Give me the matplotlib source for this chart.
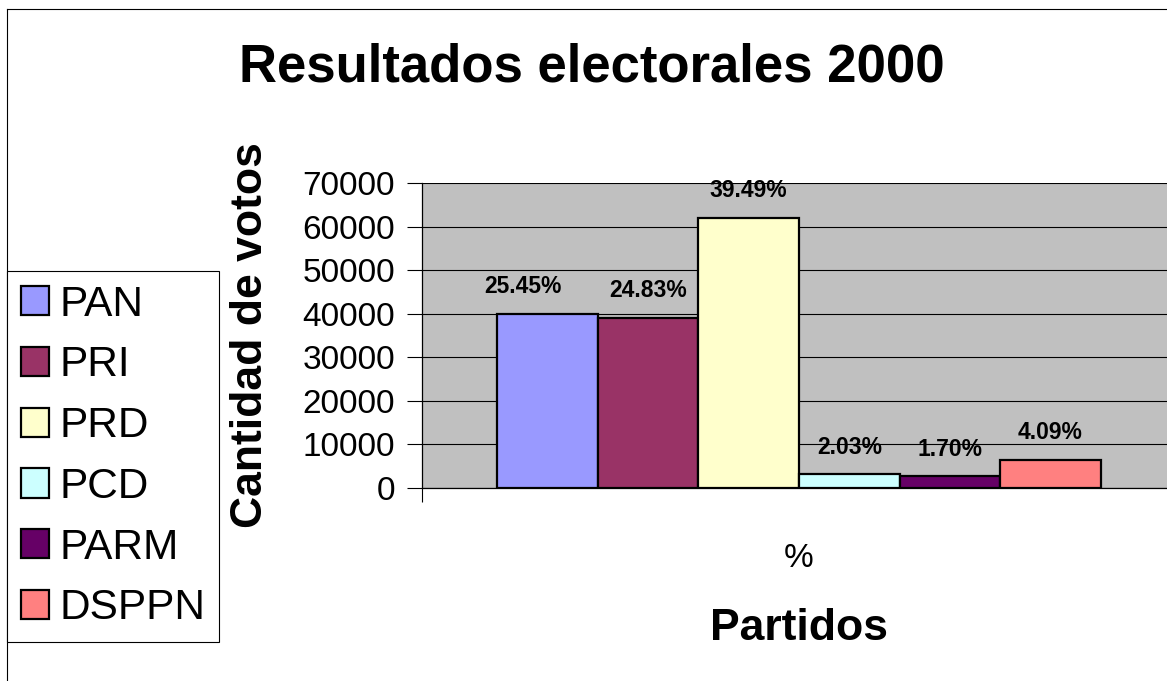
import matplotlib.pyplot as plt
from matplotlib.patches import Patch
from matplotlib.lines import Line2D
import numpy as np

plt.rcParams['font.family'] = ['Liberation Sans', 'DejaVu Sans']

partidos = ['PAN', 'PRI', 'PRD', 'PCD', 'PARM', 'DSPPN']
votos = [40000, 39030, 62070, 3190, 2670, 6430]
porcentajes = ['25.45%', '24.83%', '39.49%', '2.03%', '1.70%', '4.09%']
colores = ['#9999FF', '#993366', '#FFFFCC', '#CCFFFF', '#660066', '#FF8080']
categoria = '%'

W, H = 1167, 681
fig = plt.figure(figsize=(W / 100, H / 100), dpi=100)

# plot area (right edge runs past the picture, as in the reference)
ax = fig.add_axes([422 / W, 1 - 488 / H, 754 / W, 305 / H])
ax.set_facecolor('#C0C0C0')

n = len(partidos)
bw = 1.0 / (n + 1.5)
xs = (np.arange(n) - (n - 1) / 2) * bw
ax.bar(xs, votos, width=bw, color=colores, edgecolor='black', linewidth=1.6, zorder=3)

# data labels (first one sits a little to the left in the original)
label_dx = [-18, 0, 0, 0, 0, 0]
for x, v, txt, dx in zip(xs, votos, porcentajes, label_dx):
    ax.annotate(txt, (x, v), xytext=(dx, 19.5), textcoords='offset points',
                ha='center', va='center', fontsize=16.5, fontweight='bold', zorder=4)

ax.set_xlim(-0.5, 0.5)
ax.set_ylim(0, 70000)
ax.set_yticks(np.arange(0, 70001, 10000))
ax.yaxis.grid(True, color='black', linewidth=0.8, zorder=1)
ax.set_axisbelow(True)
ax.tick_params(axis='y', direction='out', length=11, width=0.8, pad=8.5, labelsize=24)

ax.set_xticks([0])
ax.set_xticklabels([categoria], fontsize=24)
ax.tick_params(axis='x', length=0, pad=39.5)
ax.set_xticks([-0.5, 0.5], minor=True)
ax.tick_params(axis='x', which='minor', direction='out', length=10, width=0.8)

for s in ['top', 'right']:
    ax.spines[s].set_visible(False)
for s in ['left', 'bottom']:
    ax.spines[s].set_linewidth(0.9)

ax.set_ylabel('Cantidad de votos', fontsize=32, fontweight='bold', va='center')
ax.yaxis.set_label_coords((251 - 422) / 754, 0.5)
ax.set_xlabel('Partidos', fontsize=32, fontweight='bold', va='center')
ax.xaxis.set_label_coords(0.5, (488 - 629) / 305)

fig.suptitle('Resultados electorales 2000', x=592 / W, y=1 - 68 / H,
             va='center', fontsize=38, fontweight='bold')

handles = [Patch(facecolor=c, edgecolor='black', linewidth=1.6) for c in colores]
leg = fig.legend(handles, partidos, loc='upper left',
                 bbox_to_anchor=(7 / W, 1 - 271 / H), bbox_transform=fig.transFigure,
                 fontsize=30.5, fancybox=False, edgecolor='black', framealpha=1,
                 handlelength=0.68, handleheight=0.68, handletextpad=0.24,
                 borderpad=0.32, labelspacing=0.49, borderaxespad=0)
leg.get_frame().set_linewidth(0.8)

# chart border
fig.add_artist(Line2D([7 / W, 7 / W], [0, 1 - 9 / H], color='black', linewidth=0.8,
                      transform=fig.transFigure))
fig.add_artist(Line2D([7 / W, 1], [1 - 9 / H, 1 - 9 / H], color='black', linewidth=0.8,
                      transform=fig.transFigure))

fig.savefig('out.png', dpi=100)
